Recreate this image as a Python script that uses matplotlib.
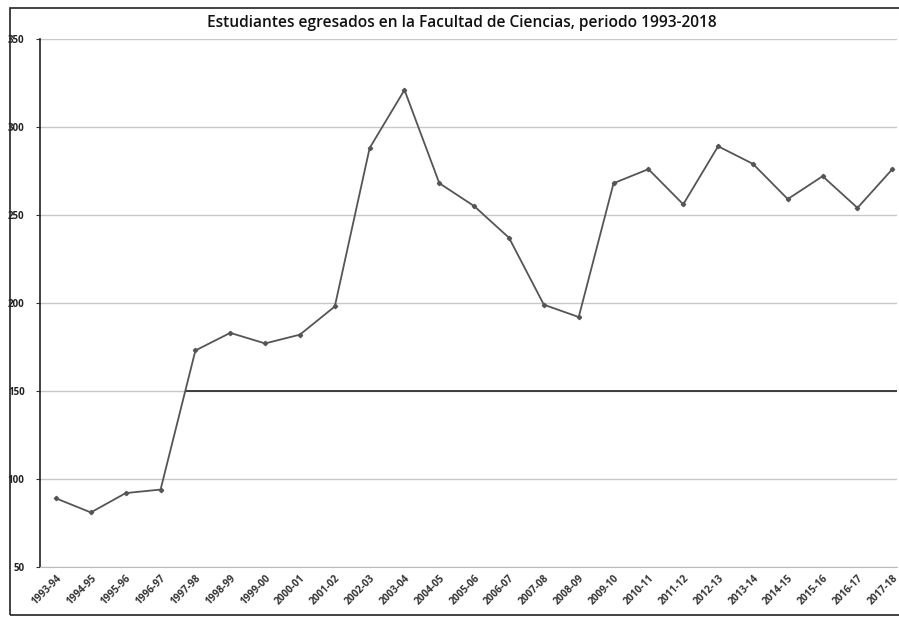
import matplotlib
matplotlib.use('Agg')
import matplotlib.pyplot as plt
from matplotlib.patches import Rectangle

# periodos y egresados
periodos = [
    '1993-94', '1994-95', '1995-96', '1996-97', '1997-98', '1998-99', '1999-00',
    '2000-01', '2001-02', '2002-03', '2003-04', '2004-05', '2005-06', '2006-07',
    '2007-08', '2008-09', '2009-10', '2010-11', '2011-12', '2012-13', '2013-14',
    '2014-15', '2015-16', '2016-17', '2017-18',
]
egresados = [89, 81, 92, 94, 173, 183, 177, 182, 198, 288, 321, 268, 255, 237,
             199, 192, 268, 276, 256, 289, 279, 259, 272, 254, 276]
y_ticks = [50, 100, 150, 200, 250, 300, 350]

plt.rcParams['font.family'] = ['Open Sans', 'DejaVu Sans']

fig = plt.figure(figsize=(8.99, 6.17), dpi=100)
ax = fig.add_axes([0.0445, 0.081, 0.9535, 0.856])

# marco exterior del gráfico
fig.patches.append(Rectangle((0.011, 0.003), 0.995, 0.984, transform=fig.transFigure,
                             fill=False, edgecolor='#222222', linewidth=1.2))

x = list(range(len(periodos)))
ax.plot(x, egresados, color='#555555', linewidth=1.3, marker='D', markersize=2.2,
        markerfacecolor='#555555', zorder=3)

ax.set_ylim(50, 350)
ax.set_xlim(-0.46, len(periodos) - 0.86)
ax.set_yticks(y_ticks)
ax.set_yticklabels([str(v) for v in y_ticks], fontsize=7, fontweight='bold', color='#222222')
ax.set_xticks(x)
ax.set_xticklabels(periodos, rotation=45, ha='right', rotation_mode='anchor',
                   fontsize=7.2, fontweight='bold', color='#333333')
ax.tick_params(axis='x', length=0, pad=4)
ax.tick_params(axis='y', length=3, pad=8, color='#333333')

ax.yaxis.grid(True, color='#c8c8c8', linewidth=1.0)
ax.set_axisbelow(True)
ax.axhline(150, xmin=0.17, xmax=1.0, color='#222222', linewidth=1.2, zorder=2)

for side in ['top', 'right']:
    ax.spines[side].set_visible(False)
ax.spines['left'].set_color('#222222')
ax.spines['left'].set_linewidth(1.2)
ax.spines['bottom'].set_color('#bbbbbb')

fig.text(0.514, 0.962, 'Estudiantes egresados en la Facultad de Ciencias, periodo 1993-2018',
         ha='center', va='center', fontsize=11.2, fontweight='semibold', color='#111111')

fig.savefig('out.png', dpi=100)
